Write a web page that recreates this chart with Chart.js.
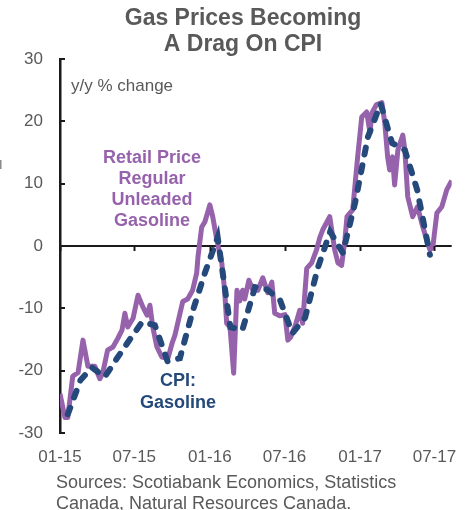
<!DOCTYPE html>
<html>
<head>
<meta charset="utf-8">
<title>Gas Prices Becoming A Drag On CPI</title>
<script src="https://cdn.jsdelivr.net/npm/chart.js@4.4.0/dist/chart.umd.min.js"></script>
<style>
  html, body { margin: 0; padding: 0; background: #fff; }
  #wrap { width: 471px; height: 510px; }
</style>
</head>
<body>
<div id="wrap"><canvas id="gasChart" width="471" height="510"></canvas></div>
<script>
// retail price, regular unleaded gasoline (y/y %), weekly readings
let retailDates = ['2015-01-01','2015-01-13','2015-01-20','2015-02-01','2015-02-14','2015-02-26','2015-03-10','2015-03-27','2015-04-08','2015-04-15',
  '2015-04-27','2015-05-10','2015-05-22','2015-06-01','2015-06-08','2015-06-15','2015-06-28','2015-07-10','2015-07-22','2015-08-01',
  '2015-08-08','2015-08-15','2015-08-25','2015-09-06','2015-09-21','2015-10-01','2015-10-08','2015-10-27','2015-11-08','2015-11-20',
  '2015-11-30','2015-12-03','2015-12-12','2015-12-20','2016-01-01','2016-01-08','2016-01-18','2016-01-30','2016-02-06','2016-02-11',
  '2016-02-19','2016-02-28','2016-03-07','2016-03-14','2016-03-21','2016-03-26','2016-04-05','2016-04-15','2016-04-27','2016-05-09',
  '2016-05-21','2016-05-31','2016-06-07','2016-06-19','2016-07-02','2016-07-09','2016-07-16','2016-07-28','2016-08-07','2016-08-14',
  '2016-08-24','2016-09-05','2016-09-17','2016-09-25','2016-10-02','2016-10-19','2016-10-31','2016-11-08','2016-11-17','2016-11-25',
  '2016-11-30','2016-12-14','2016-12-26','2017-01-05','2017-01-17','2017-01-25','2017-01-30','2017-02-10','2017-02-23','2017-03-02',
  '2017-03-09','2017-03-14','2017-03-21','2017-03-26','2017-04-03','2017-04-15','2017-04-20','2017-04-27','2017-05-09','2017-05-21',
  '2017-05-31','2017-06-12','2017-06-20','2017-06-27','2017-07-07','2017-07-19','2017-07-31','2017-08-12'];
let retailValues = [-23.7,-27.5,-27.5,-20.9,-20.3,-15.1,-19.3,-19.3,-21.3,-20.4,
  -16.7,-16.2,-14.8,-13.5,-10.8,-13,-11.6,-7.9,-9.8,-11.1,
  -9.5,-13,-16.2,-17.8,-18,-15.6,-14.3,-8.9,-8.5,-7.1,
  -4.3,-1.8,3,3.9,6.6,4.7,1,-2.7,-7.1,-12.4,
  -13,-20.4,-7.1,-8.8,-7.1,-8.5,-5.5,-7.1,-7.1,-5.1,
  -7.5,-5.8,-10.8,-11.2,-11,-15.1,-14.6,-12.6,-10.3,-12.4,
  -3.6,-2.7,-0.6,1.4,2.6,4.7,-0.6,-2.7,-3.1,1,
  4.7,5.8,14.3,20.7,21.5,18.2,21.4,22.7,23,19.8,
  14.3,12.2,14.3,9.8,15.4,17.8,15.4,7.9,4.7,6.3,
  3.7,1,-0.6,-0.2,5.3,6.3,9,10.5];

// CPI gasoline (y/y %), monthly
let cpiDates = ['2015-01-20','2015-02-20','2015-03-20','2015-04-20','2015-05-20','2015-06-20','2015-07-20','2015-08-20','2015-09-20','2015-10-20',
  '2015-11-20','2015-12-20','2016-01-20','2016-02-20','2016-03-20','2016-04-20','2016-05-20','2016-06-20','2016-07-20','2016-08-20',
  '2016-09-20','2016-10-20','2016-11-20','2016-12-20','2017-01-20','2017-02-20','2017-03-20','2017-04-20','2017-05-20','2017-06-20'];
let cpiValues = [-27,-21.5,-19.5,-21,-18,-15,-12.2,-12.7,-18.5,-18,
  -10.5,-4.3,1.4,-13,-13.5,-6.6,-7,-8.7,-14,-11.5,
  -3.5,2.3,-1.1,7,17.5,22.8,16.5,15.4,9,-1.4];

let tickDates = ['2015-01-01','2015-07-01','2016-01-01','2016-07-01','2017-01-01','2017-07-01'];
let tickLabels = ['01-15','07-15','01-16','07-16','01-17','07-17'];

const GRAY = '#595959';
const PURPLE = '#9762AC';
const NAVY = '#24497A';
const FONT = 'Liberation Sans, Arial, sans-serif';

// days since 2015-01-01
function dayOf(s) {
    const p = s.split('-').map(Number);
    return (Date.UTC(p[0], p[1] - 1, p[2]) - Date.UTC(2015, 0, 1)) / 86400000;
}

const tickDays = tickDates.map(dayOf);
const retailPoints = retailDates.map((d, i) => ({ x: dayOf(d), y: retailValues[i] }));
const cpiPoints = cpiDates.map((d, i) => ({ x: dayOf(d), y: cpiValues[i] }));

// titles, notes, tick marks
const decor = {
    id: 'decor',
    afterDraw(chart) {
        const ctx = chart.ctx;
        const x = chart.scales.x, y = chart.scales.y;
        const area = chart.chartArea;
        ctx.save();

        // small inward ticks on the y axis
        ctx.strokeStyle = '#1a1a1a';
        ctx.lineWidth = 2;
        y.ticks.forEach(t => {
            const py = Math.round(y.getPixelForValue(t.value));
            ctx.beginPath();
            ctx.moveTo(area.left, py);
            ctx.lineTo(area.left + 5, py);
            ctx.stroke();
        });
        // date ticks hanging off the zero line
        const y0 = y.getPixelForValue(0);
        tickDays.forEach(v => {
            const px = Math.round(x.getPixelForValue(v)) + 0.5;
            ctx.beginPath();
            ctx.moveTo(px, y0);
            ctx.lineTo(px, y0 + 5);
            ctx.stroke();
        });

        ctx.textBaseline = 'middle';
        ctx.textAlign = 'center';
        ctx.fillStyle = GRAY;
        ctx.font = 'bold 23px ' + FONT;
        ctx.fillText('Gas Prices Becoming', 243, 19);
        ctx.fillText('A Drag On CPI', 243, 45);

        ctx.textAlign = 'left';
        ctx.font = '17px ' + FONT;
        ctx.fillText('y/y % change', 71, 86);

        ctx.font = '18px ' + FONT;
        ctx.fillText('Sources: Scotiabank Economics, Statistics', 56, 483);
        ctx.fillText('Canada, Natural Resources Canada.', 56, 504);

        ctx.textAlign = 'center';
        ctx.font = 'bold 18px ' + FONT;
        ctx.fillStyle = PURPLE;
        ['Retail Price', 'Regular', 'Unleaded', 'Gasoline'].forEach((s, i) => {
            ctx.fillText(s, 152, 158.5 + i * 21);
        });
        ctx.fillStyle = NAVY;
        ctx.fillText('CPI:', 178, 381.5);
        ctx.fillText('Gasoline', 178, 403.5);

        // clipped remnant at the left edge
        ctx.fillStyle = '#8a8a8a';
        ctx.fillRect(0, 160, 1.5, 9);
        ctx.restore();
    }
};

new Chart(document.getElementById('gasChart'), {
    type: 'line',
    data: {
        datasets: [{
            label: 'CPI: Gasoline',
            data: cpiPoints,
            borderColor: NAVY,
            borderWidth: 6,
            borderDash: [7, 11],
            borderCapStyle: 'round',
            pointRadius: 0,
            tension: 0,
            order: 0
        }, {
            label: 'Retail Price Regular Unleaded Gasoline',
            data: retailPoints,
            borderColor: PURPLE,
            borderWidth: 5,
            borderJoinStyle: 'round',
            pointRadius: 0,
            tension: 0,
            order: 1
        }]
    },
    options: {
        responsive: false,
        animation: false,
        layout: { padding: { top: 59, right: 19, left: 0, bottom: 0 } },
        plugins: {
            legend: { display: false },
            tooltip: { enabled: false },
            title: { display: false }
        },
        scales: {
            x: {
                type: 'linear',
                min: 0,
                max: dayOf(retailDates[retailDates.length - 1]),
                afterBuildTicks: s => { s.ticks = tickDays.map(v => ({ value: v })); },
                afterFit: s => { s.height = 77; },
                grid: { display: false, drawTicks: false },
                border: { display: false },
                ticks: {
                    autoSkip: false,
                    maxRotation: 0,
                    padding: 14,
                    color: GRAY,
                    font: { family: FONT, size: 17 },
                    callback: v => {
                        const i = tickDays.indexOf(v);
                        return i >= 0 ? tickLabels[i] : '';
                    }
                }
            },
            y: {
                min: -30,
                max: 30,
                afterFit: s => { s.width = 60; },
                grid: {
                    drawTicks: false,
                    lineWidth: 2,
                    color: c => c.tick && c.tick.value === 0 ? '#1a1a1a' : 'rgba(0,0,0,0)'
                },
                border: { display: true, color: '#1a1a1a', width: 2.5 },
                ticks: {
                    stepSize: 10,
                    padding: 17,
                    color: GRAY,
                    font: { family: FONT, size: 17 }
                }
            }
        }
    },
    plugins: [decor]
});
</script>
</body>
</html>
